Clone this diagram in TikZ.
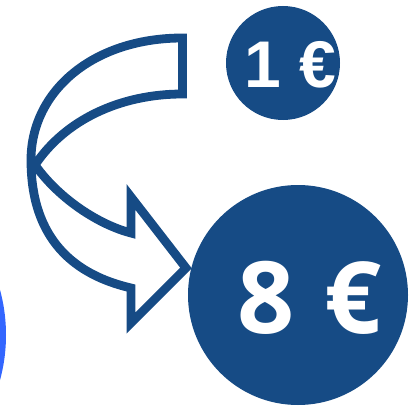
\documentclass[tikz,border=0pt]{standalone}
\usepackage{fontspec}
\newfontfamily\smallcoinfont{Liberation Sans}
\newfontfamily\bigcoinfont{Open Sans}
\definecolor{coinblue}{RGB}{22,75,133}
\definecolor{brightblue}{RGB}{51,102,255}
\tikzset{
  coin/.style={circle, fill=coinblue, inner sep=0pt},
  coinlabel/.style={text=white, inner sep=0pt, anchor=center},
}
\begin{document}
\begin{tikzpicture}[x=1pt,y=1pt,yscale=-1,xscale=1]
    \useasboundingbox (0,0) rectangle (408,409);
    \clip (0,0) rectangle (408,409);

    % Edge Circle
    \fill [brightblue] (-166,335) circle [radius=172];

    % Curved Arrow
    \draw [coinblue, line width=8.8, line join=miter]
      (182.5,38) .. controls (92,38) and (31,92) .. (31,160)
      .. controls (31,240) and (75,275) .. (131,288)
      -- (131,323) -- (186,268) -- (131,197) -- (131,233)
      .. controls (100,225) and (60,200) .. (35,165)
      .. controls (65,120) and (120,94) .. (182.5,94)
      -- cycle ;

    % Small Coin
    \node [coin, minimum size=114] (smallcoin) at (283,63) {};
    \node [coinlabel, font=\smallcoinfont\bfseries\fontsize{66}{66}\selectfont] (smalllabel) at (290,65) {1 €};

    % Big Coin
    \node [coin, minimum size=220] (bigcoin) at (298,295) {};
    \node [coinlabel, font=\bigcoinfont\bfseries\fontsize{100}{100}\selectfont] (biglabel) at (310,298) {8\hspace{4pt} €};

\end{tikzpicture}
\end{document}
